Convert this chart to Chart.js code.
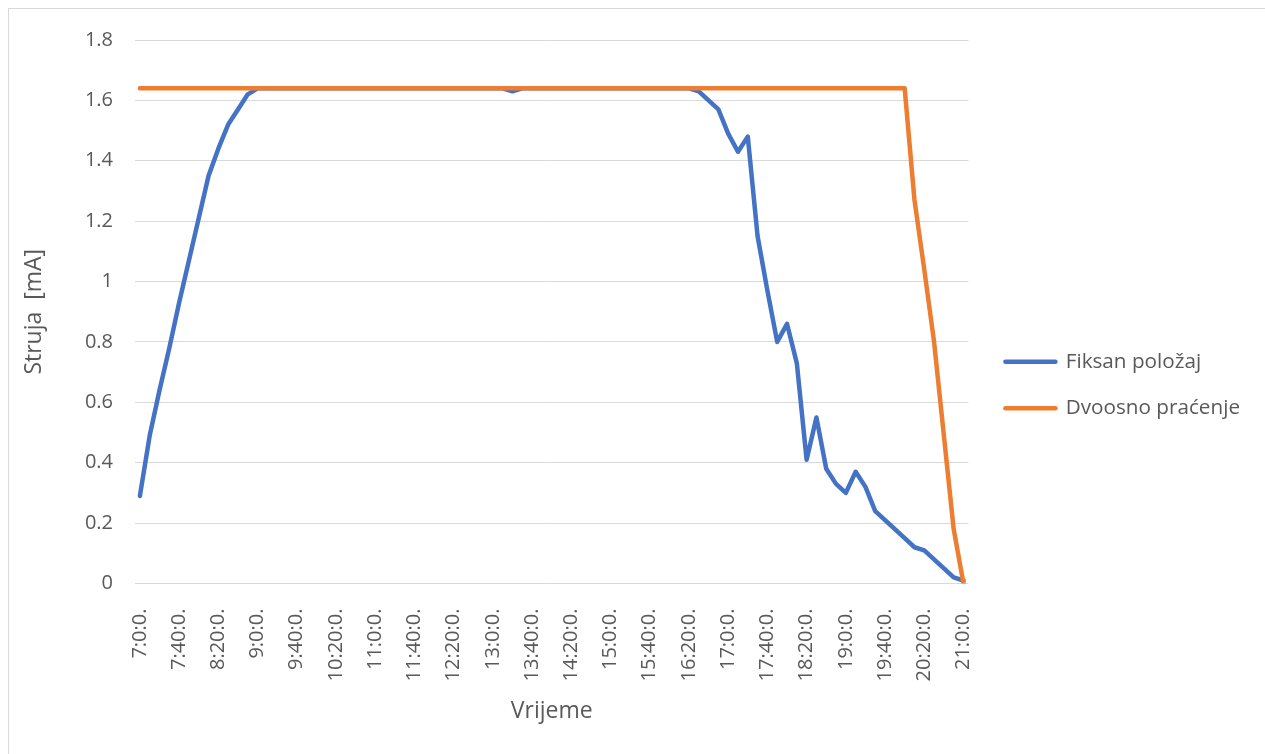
<!DOCTYPE html>
<html>
<head>
<meta charset="utf-8">
<script src="https://cdn.jsdelivr.net/npm/chart.js@4.4.1/dist/chart.umd.min.js"></script>
<style>
html,body{margin:0;padding:0;background:#fff;overflow:hidden}
canvas{display:block}
</style>
</head>
<body>
<canvas id="c" width="1265" height="754"></canvas>
<script>
const categories = [
  "7:0:0.","7:10:0.","7:20:0.","7:30:0.","7:40:0.","7:50:0.",
  "8:0:0.","8:10:0.","8:20:0.","8:30:0.","8:40:0.","8:50:0.",
  "9:0:0.","9:10:0.","9:20:0.","9:30:0.","9:40:0.","9:50:0.",
  "10:0:0.","10:10:0.","10:20:0.","10:30:0.","10:40:0.","10:50:0.",
  "11:0:0.","11:10:0.","11:20:0.","11:30:0.","11:40:0.","11:50:0.",
  "12:0:0.","12:10:0.","12:20:0.","12:30:0.","12:40:0.","12:50:0.",
  "13:0:0.","13:10:0.","13:20:0.","13:30:0.","13:40:0.","13:50:0.",
  "14:0:0.","14:10:0.","14:20:0.","14:30:0.","14:40:0.","14:50:0.",
  "15:0:0.","15:10:0.","15:20:0.","15:30:0.","15:40:0.","15:50:0.",
  "16:0:0.","16:10:0.","16:20:0.","16:30:0.","16:40:0.","16:50:0.",
  "17:0:0.","17:10:0.","17:20:0.","17:30:0.","17:40:0.","17:50:0.",
  "18:0:0.","18:10:0.","18:20:0.","18:30:0.","18:40:0.","18:50:0.",
  "19:0:0.","19:10:0.","19:20:0.","19:30:0.","19:40:0.","19:50:0.",
  "20:0:0.","20:10:0.","20:20:0.","20:30:0.","20:40:0.","20:50:0.",
  "21:0:0."
];

const fiksanPolozaj = [
  0.29, 0.49, 0.64, 0.78, 0.93, 1.07, 1.21, 1.35, 1.44, 1.52,
  1.57, 1.62, 1.64, 1.64, 1.64, 1.64, 1.64, 1.64, 1.64, 1.64,
  1.64, 1.64, 1.64, 1.64, 1.64, 1.64, 1.64, 1.64, 1.64, 1.64,
  1.64, 1.64, 1.64, 1.64, 1.64, 1.64, 1.64, 1.64, 1.63, 1.64,
  1.64, 1.64, 1.64, 1.64, 1.64, 1.64, 1.64, 1.64, 1.64, 1.64,
  1.64, 1.64, 1.64, 1.64, 1.64, 1.64, 1.64, 1.63, 1.60, 1.57,
  1.49, 1.43, 1.48, 1.15, 0.97, 0.80, 0.86, 0.73, 0.41, 0.55,
  0.38, 0.33, 0.30, 0.37, 0.32, 0.24, 0.21, 0.18, 0.15, 0.12,
  0.11, 0.08, 0.05, 0.02, 0.01
];

const dvoosnoPracenje = [
  1.64, 1.64, 1.64, 1.64, 1.64, 1.64, 1.64, 1.64, 1.64, 1.64,
  1.64, 1.64, 1.64, 1.64, 1.64, 1.64, 1.64, 1.64, 1.64, 1.64,
  1.64, 1.64, 1.64, 1.64, 1.64, 1.64, 1.64, 1.64, 1.64, 1.64,
  1.64, 1.64, 1.64, 1.64, 1.64, 1.64, 1.64, 1.64, 1.64, 1.64,
  1.64, 1.64, 1.64, 1.64, 1.64, 1.64, 1.64, 1.64, 1.64, 1.64,
  1.64, 1.64, 1.64, 1.64, 1.64, 1.64, 1.64, 1.64, 1.64, 1.64,
  1.64, 1.64, 1.64, 1.64, 1.64, 1.64, 1.64, 1.64, 1.64, 1.64,
  1.64, 1.64, 1.64, 1.64, 1.64, 1.64, 1.64, 1.64, 1.64, 1.27,
  1.04, 0.80, 0.49, 0.18, 0.00
];

const seriesNames = ["Fiksan položaj", "Dvoosno praćenje"];
const xTitle = "Vrijeme";
const yTitle = "Struja  [mA]";
const yMin = 0, yMax = 1.8, yStep = 0.2;
const labelEvery = 4;

const FONT = "'Open Sans', sans-serif";
const GREY = '#595959';
const GRID = '#D9D9D9';

const framePlugin = {
  id: 'frame',
  beforeDraw(chart) {
    const ctx = chart.ctx;
    ctx.save();
    ctx.fillStyle = '#ffffff';
    ctx.fillRect(0, 0, chart.width, chart.height);
    ctx.strokeStyle = GRID;
    ctx.lineWidth = 1;
    ctx.strokeRect(8.5, 8.5, chart.width + 20, chart.height + 20);
    ctx.restore();
  }
};

new Chart(document.getElementById('c'), {
  type: 'line',
  data: {
    labels: categories,
    datasets: [
      {
        label: seriesNames[0], data: fiksanPolozaj,
        borderColor: '#4472C4', backgroundColor: '#4472C4',
        borderWidth: 4.5, pointRadius: 0, tension: 0,
        borderJoinStyle: 'round', borderCapStyle: 'round', order: 1
      },
      {
        label: seriesNames[1], data: dvoosnoPracenje,
        borderColor: '#ED7D31', backgroundColor: '#ED7D31',
        borderWidth: 4.5, pointRadius: 0, tension: 0,
        borderJoinStyle: 'round', borderCapStyle: 'round', order: 0
      }
    ]
  },
  options: {
    responsive: false,
    animation: false,
    devicePixelRatio: 1,
    layout: { padding: { left: 0, top: 40, right: 15, bottom: 24 } },
    plugins: {
      tooltip: { enabled: false },
      legend: {
        position: 'right',
        align: 'center',
        maxWidth: 400,
        labels: {
          usePointStyle: true,
          pointStyle: 'line',
          pointStyleWidth: 50,
          padding: 26,
          color: GREY,
          font: { family: FONT, size: 20.7 },
          generateLabels(chart) {
            return chart.data.datasets.map((ds, i) => ({
              text: ds.label,
              fillStyle: ds.borderColor,
              strokeStyle: ds.borderColor,
              lineWidth: 4.5,
              lineCap: 'round',
              pointStyle: 'line',
              fontColor: GREY,
              hidden: false,
              datasetIndex: i
            }));
          }
        }
      }
    },
    scales: {
      x: {
        offset: true,
        grid: { display: false },
        border: { display: false },
        ticks: {
          autoSkip: false, minRotation: 90, maxRotation: 90, padding: 17,
          color: GREY, font: { family: FONT, size: 20 },
          callback(v, i) { return i % labelEvery === 0 ? categories[i] : ''; }
        },
        title: {
          display: true, text: xTitle, color: GREY,
          font: { family: FONT, size: 23 }, padding: { top: 0, bottom: 5 }
        },
        afterFit(s) { s.height = 146.5; }
      },
      y: {
        min: yMin, max: yMax,
        ticks: {
          stepSize: yStep, padding: 22, color: GREY,
          font: { family: FONT, size: 20 },
          callback: (v) => String(Math.round(v * 10) / 10)
        },
        grid: { color: GRID, lineWidth: 1, drawTicks: false },
        border: { display: false },
        title: {
          display: true, text: yTitle, color: GREY,
          font: { family: FONT, size: 23 }, padding: { top: 21, bottom: 0 }
        },
        afterFit(s) { s.width = 135; }
      },
      gap: {
        axis: 'y', type: 'linear', position: 'right', display: true,
        grid: { display: false }, border: { display: false },
        ticks: { display: false },
        afterFit(s) { s.width = 11; }
      }
    }
  },
  plugins: [framePlugin]
});
</script>
</body>
</html>
